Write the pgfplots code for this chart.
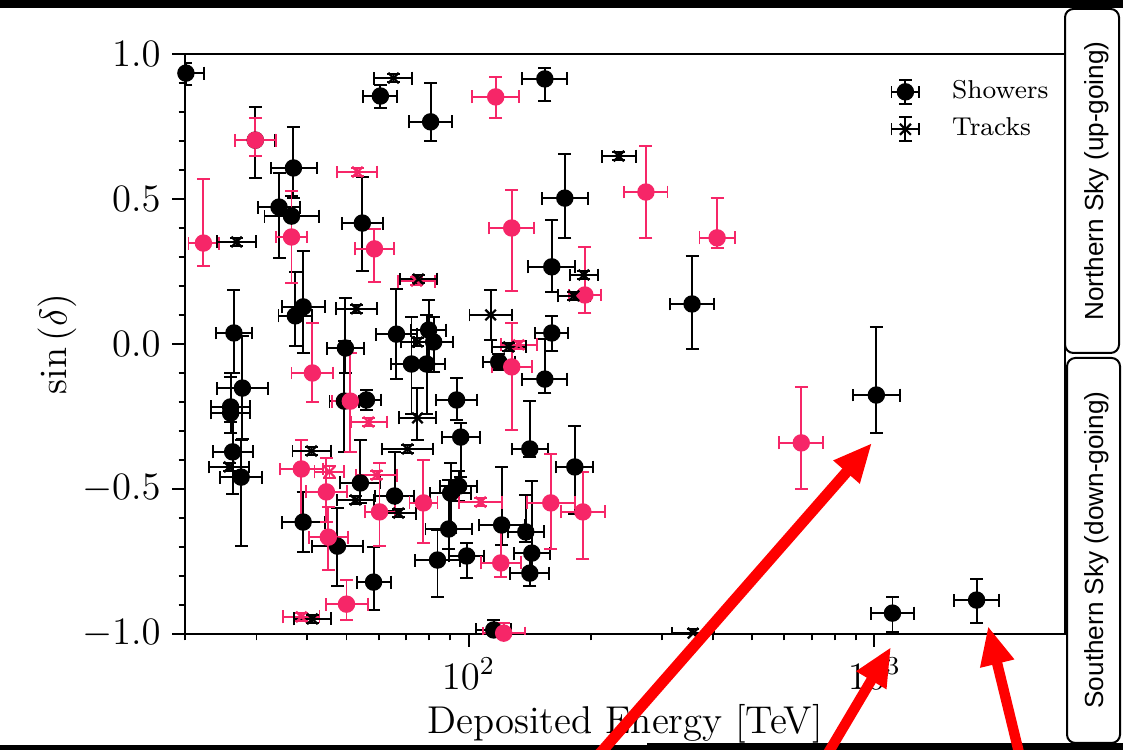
\documentclass[border=0pt]{standalone}
\usepackage{fontspec}
\usepackage{pgfplots}
\usepackage{pgfplotstable}
\pgfplotsset{compat=1.18}
\usetikzlibrary{arrows.meta}
\newfontfamily\boxfont{Liberation Sans}
\definecolor{pinkc}{RGB}{246,38,104}

% E [TeV], errors on E, sin(dec), errors on sin(dec)
\pgfplotstableread{
E Em Ep s sm sp
20.1 2.0 2.2 0.934 0.041 0.034
60.6 5.6 6.1 0.855 0.041 0.038
80.6 9.3 10.5 0.766 0.066 0.134
154.1 18.6 21.1 0.914 0.076 0.038
172.6 21.2 24.2 0.503 0.138 0.152
160.3 20.1 22.9 0.266 0.086 0.162
160.3 14.3 15.7 0.038 0.062 0.059
154.1 18.6 21.1 -0.121 0.048 0.138
355.3 41.7 47.3 0.138 0.155 0.166
1011 126.5 144.6 -0.176 0.131 0.234
1108 127 144 -0.928 0.066 0.055
1786 215 245 -0.883 0.079 0.072
29.8 3.2 3.6 0.703 0.131 0.114
37.0 4.5 5.2 0.607 0.103 0.141
34.1 3.9 4.4 0.472 0.176 0.117
36.6 5.2 6.1 0.441 0.069 0.069
54.7 6.0 6.8 0.417 0.166 0.159
39.1 4.5 5.1 0.128 0.159 0.193
37.4 3.4 3.8 0.097 0.103 0.152
49.7 5.0 5.5 -0.014 0.086 0.172
26.4 2.5 2.8 0.038 0.138 0.148
27.7 3.7 4.3 -0.152 0.176 0.179
25.9 2.7 3.0 -0.217 0.052 0.103
25.9 2.7 3.0 -0.238 0.069 0.138
26.2 2.8 3.2 -0.372 0.145 0.138
27.5 3.1 3.5 -0.459 0.238 0.128
66.4 7.3 8.2 0.034 0.155 0.155
79.7 7.6 8.4 0.048 0.103 0.103
82.0 8.6 9.6 0.007 0.103 0.086
72.3 7.8 8.7 -0.069 0.172 0.162
78.8 7.7 8.5 -0.069 0.172 0.169
56.0 4.4 4.8 -0.193 0.034 0.034
49.4 4.0 4.4 -0.197 0.176 0.207
118.6 10.3 11.3 -0.062 0.028 0.028
93.4 10.1 11.3 -0.193 0.069 0.076
95.6 9.8 10.9 -0.321 0.138 0.048
94.5 9.4 10.5 -0.490 0.052 0.052
90.3 9.8 10.9 -0.514 0.138 0.103
89.3 11.0 12.5 -0.638 0.069 0.169
83.8 10.1 11.5 -0.745 0.128 0.103
98.9 9.4 10.4 -0.731 0.076 0.045
120.6 14.8 16.9 -0.624 0.069 0.200
138.3 13.5 14.9 -0.648 0.034 0.128
143.1 13.9 15.5 -0.721 0.069 0.248
141.5 14.8 16.6 -0.790 0.045 0.069
141.5 13.8 15.3 -0.362 0.028 0.166
182.7 18.3 20.3 -0.424 0.162 0.141
39.1 4.5 5.1 -0.614 0.103 0.103
47.5 6.3 7.3 -0.697 0.138 0.131
54.1 5.8 6.5 -0.479 0.069 0.148
58.3 5.3 5.9 -0.821 0.097 0.121
65.7 6.9 7.7 -0.524 0.052 0.152
115.3 11.0 12.1 -0.986 0.034 0.034
}\blackshowers

\pgfplotstableread{
E Em Ep s sm sp
29.8 3.3 3.7 0.703 0.055 0.076
116.6 14.6 16.7 0.852 0.072 0.069
273.5 31.5 35.6 0.524 0.159 0.159
409.6 38.9 43.0 0.366 0.034 0.138
127.7 15.4 17.5 0.400 0.217 0.131
193.4 16.8 18.4 0.169 0.062 0.166
660.4 77.5 87.8 -0.341 0.159 0.193
36.6 3.1 3.4 0.369 0.159 0.159
22.2 1.8 2.0 0.348 0.079 0.221
58.6 6.1 6.9 0.328 0.114 0.069
41.2 4.6 5.2 -0.100 0.100 0.172
127.7 13.8 15.5 -0.079 0.217 0.152
159.4 20.3 23.3 -0.548 0.159 0.169
191.2 22.4 25.4 -0.579 0.162 0.138
120.0 12.9 14.5 -0.755 0.048 0.138
38.7 4.5 5.1 -0.431 0.190 0.100
44.6 4.9 5.5 -0.510 0.103 0.117
45.1 4.7 5.3 -0.666 0.114 0.103
50.0 5.6 6.4 -0.897 0.055 0.083
60.3 4.9 5.4 -0.579 0.117 0.169
77.4 5.9 6.4 -0.548 0.138 0.148
51.1 5.0 5.5 -0.197 0.176 0.166
122.0 13.7 15.5 -0.997 0.020 0.034
}\pinkshowers

\pgfplotstableread{
E Em Ep s sm sp
53.2 5.7 6.4 0.593 0.014 0.014
74.4 7.4 8.3 0.217 0.014 0.014
132.9 13.0 14.4 -0.003 0.014 0.014
107.1 12.3 13.9 -0.545 0.014 0.014
38.7 3.8 4.2 -0.941 0.014 0.014
45.4 3.7 4.0 -0.441 0.021 0.021
56.7 5.5 6.1 -0.269 0.014 0.014
59.3 6.4 7.2 -0.452 0.014 0.014
}\pinktracks

\pgfplotstableread{
E Em Ep s sm sp
65.3 6.7 7.4 0.917 0.014 0.014
234.6 21.5 23.7 0.648 0.014 0.014
192.3 14.7 16.0 0.238 0.014 0.014
181.7 15.8 17.3 0.166 0.014 0.014
26.8 2.8 3.1 0.352 0.014 0.014
75.2 7.5 8.3 0.224 0.014 0.014
52.9 5.9 6.7 0.121 0.014 0.014
113.3 12.8 14.4 0.100 0.086 0.086
125.5 11.5 12.7 -0.010 0.014 0.014
74.8 6.7 7.3 0.007 0.014 0.014
74.8 7.3 8.1 -0.255 0.076 0.103
70.7 9.4 10.8 -0.362 0.014 0.014
67.2 6.2 6.8 -0.583 0.014 0.014
52.6 5.1 5.7 -0.538 0.014 0.014
41.0 4.2 4.7 -0.369 0.014 0.014
41.2 4.1 4.6 -0.948 0.014 0.014
25.7 2.8 3.1 -0.424 0.014 0.014
357.3 40.3 45.4 -0.997 0.014 0.014
}\blacktracks

\pgfplotsset{
  ebars/.style={
    error bars/.cd,
      x dir=both, x explicit, y dir=both, y explicit,
      error bar style={line width=0.6pt, #1},
      error mark options={rotate=90, mark size=2pt, line width=0.6pt, #1}
  },
  showerglyph/.style={
    legend image code/.code={
      \draw[line width=0.6pt] (0pt,0pt) -- (8.6pt,0pt)
        (0pt,-1.9pt) -- (0pt,1.9pt) (8.6pt,-1.9pt) -- (8.6pt,1.9pt)
        (4.3pt,-3.7pt) -- (4.3pt,3.7pt)
        (2.4pt,-3.7pt) -- (6.2pt,-3.7pt) (2.4pt,3.7pt) -- (6.2pt,3.7pt);
      \fill (4.3pt,0pt) circle[radius=2.5pt];
      \path[draw=none] (0pt,0pt) -- (16.8pt,0pt);
    }
  },
  trackglyph/.style={
    legend image code/.code={
      \draw[line width=0.6pt] (0pt,0pt) -- (8.6pt,0pt)
        (0pt,-1.9pt) -- (0pt,1.9pt) (8.6pt,-1.9pt) -- (8.6pt,1.9pt)
        (4.3pt,-3.7pt) -- (4.3pt,3.7pt)
        (2.4pt,-3.7pt) -- (6.2pt,-3.7pt) (2.4pt,3.7pt) -- (6.2pt,3.7pt);
      \draw[line width=0.7pt] (2.6pt,-1.7pt) -- (6pt,1.7pt) (2.6pt,1.7pt) -- (6pt,-1.7pt);
      \path[draw=none] (0pt,0pt) -- (16.8pt,0pt);
    }
  }
}

\begin{document}
\begin{tikzpicture}
\path[use as bounding box] (0pt,0pt) rectangle (347.68pt,232.2pt);

\begin{axis}[
    at={(57.28pt,35.91pt)}, anchor=south west,
    scale only axis, width=272.45pt, height=179.57pt,
    xmode=log, xmin=20, xmax=2950,
    ymin=-1, ymax=1,
    ytick={-1,-0.5,0,0.5,1}, minor y tick num=4,
    yticklabel style={/pgf/number format/.cd, fixed, fixed zerofill, precision=1},
    tick pos=left, tick align=outside,
    major tick length=4pt, minor tick length=2pt,
    every tick/.style={black, line width=0.6pt},
    axis line style={line width=0.5pt},
    tick label style={font=\large},
    label style={font=\large},
    xlabel={Deposited Energy [TeV]},
    ylabel={$\sin\left(\delta\right)$},
    xlabel style={at={(axis description cs:0.5,-0.1707)}, anchor=base},
    ylabel style={at={(axis description cs:-0.1455,0.5)}, anchor=center},
    legend style={draw=none, fill=none, font=\footnotesize,
      at={(axis description cs:0.79,0.978)}, anchor=north west, row sep=0.5pt},
    legend cell align=left,
]
\addplot[black, only marks, mark=*, mark size=2.5pt, showerglyph, ebars=black]
  table[x=E, y=s, x error minus=Em, x error plus=Ep, y error minus=sm, y error plus=sp] {\blackshowers};
\addlegendentry{Showers}
\addplot[pinkc, only marks, mark=*, mark size=2.5pt, forget plot, ebars=pinkc]
  table[x=E, y=s, x error minus=Em, x error plus=Ep, y error minus=sm, y error plus=sp] {\pinkshowers};
\addplot[pinkc, only marks, mark=x, mark size=2.3pt, mark options={line width=0.7pt}, forget plot, ebars=pinkc]
  table[x=E, y=s, x error minus=Em, x error plus=Ep, y error minus=sm, y error plus=sp] {\pinktracks};
\addplot[black, only marks, mark=x, mark size=2.3pt, mark options={line width=0.7pt}, trackglyph, ebars=black]
  table[x=E, y=s, x error minus=Em, x error plus=Ep, y error minus=sm, y error plus=sp] {\blacktracks};
\addlegendentry{Tracks}
\end{axis}

\begin{scope}[x=0.3096pt, y=0.3096pt]
  % frame bars of the screenshot
  \fill[black] (0,742) rectangle (1123,750);
  \fill[black] (0,0) rectangle (647,5);
  \fill[black] (647,0) rectangle (1123,7);
  % sky boxes
  \draw[line width=0.62pt, rounded corners=2.6pt] (1065,397) rectangle (1119,741);
  \draw[line width=0.62pt, rounded corners=2.6pt] (1067,7) rectangle (1120,392);
  \node[rotate=90, anchor=base, inner sep=0pt, font=\boxfont\fontsize{8.1pt}{9.7pt}\selectfont]
    at (1103,569) {Northern Sky (up-going)};
  \node[rotate=90, anchor=base, inner sep=0pt, font=\boxfont\fontsize{8.1pt}{9.7pt}\selectfont]
    at (1103,200) {Southern Sky (down-going)};
  % red arrows
  \begin{scope}
    \clip (0,0) rectangle (1123,750);
    \draw[red, line width=3.4pt, -{Triangle[length=12pt, width=10pt]}] (589,-16) -- (872,307);
    \draw[red, line width=3.2pt, -{Triangle[length=12pt, width=10pt]}] (821,-15) -- (891,103);
    \draw[red, line width=3.2pt, -{Triangle[length=12pt, width=10pt]}] (1022,-15) -- (988,124);
  \end{scope}
\end{scope}
\end{tikzpicture}
\end{document}
